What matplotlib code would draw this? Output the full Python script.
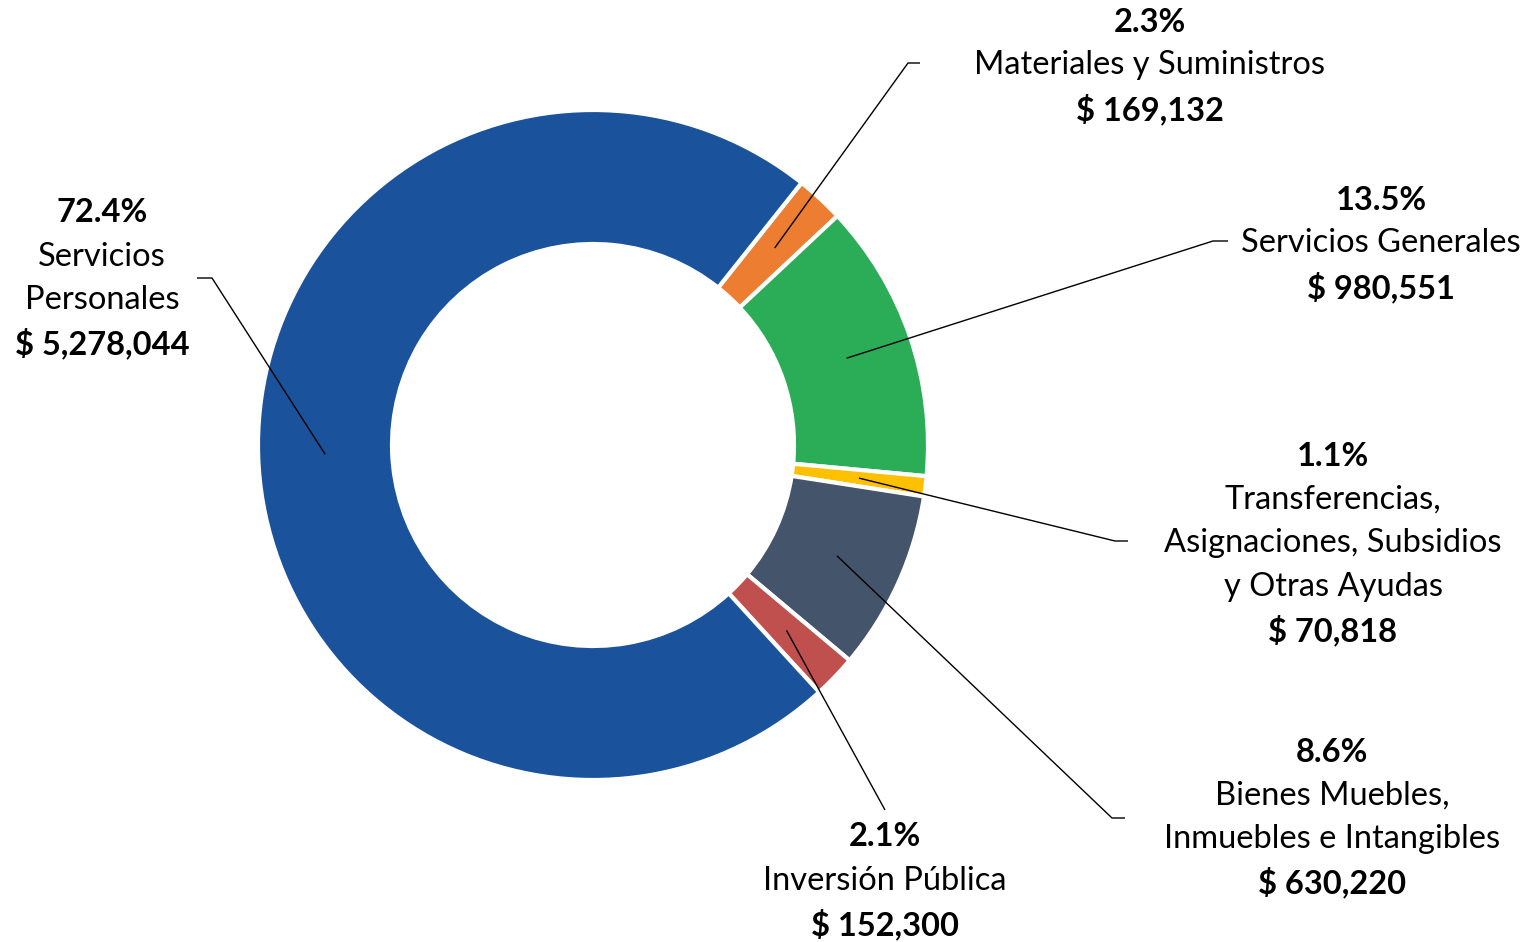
import numpy as np
import matplotlib.pyplot as plt

# datos del presupuesto por capitulo
categorias = ["Materiales y Suministros", "Servicios Generales",
              "Transferencias,\nAsignaciones, Subsidios\ny Otras Ayudas",
              "Bienes Muebles,\nInmuebles e Intangibles", "Inversión Pública",
              "Servicios\nPersonales"]
montos = [169132, 980551, 70818, 630220, 152300, 5278044]
porcentajes = ["2.3%", "13.5%", "1.1%", "8.6%", "2.1%", "72.4%"]
colores = ["#ED7D31", "#2BAD58", "#FFC000", "#44546A", "#C0504D", "#1A529B"]

W, H = 1532, 942
plt.rcParams['font.family'] = ['Lato', 'DejaVu Sans']

fig = plt.figure(figsize=(W / 100, H / 100), dpi=100)
ax = fig.add_axes([0, 0, 1, 1])

cx, cy, R = 593, H - 445, 335
wedges, _ = ax.pie(montos, colors=colores, startangle=51.5, counterclock=False,
                   radius=R, center=(cx, cy), frame=True,
                   wedgeprops=dict(width=R * 0.4, edgecolor="white", linewidth=3))
ax.set_xlim(0, W)
ax.set_ylim(0, H)
ax.axis("off")

# posicion del bloque de texto (centro x, y de la primera linea) y codo de la linea guia
etiquetas_pos = [(1150, 22), (1381, 200), (1333, 456), (1332, 752), (885, 837), (102, 213)]
codos = [[(908, 63), (920, 63)], [(1213, 241), (1228, 241)], [(1115, 541), (1128, 541)],
         [(1112, 818), (1125, 818)], [(885, 810)], [(212, 278), (197, 278)]]

fs = 23.5
dy = 43.5
for w, cat, m, p, (tx, ty), codo in zip(wedges, categorias, montos, porcentajes,
                                         etiquetas_pos, codos):
    ang = np.deg2rad((w.theta1 + w.theta2) / 2)
    x0 = cx + 0.8 * R * np.cos(ang)
    y0 = cy + 0.8 * R * np.sin(ang)
    xs = [x0] + [c[0] for c in codo]
    ys = [y0] + [H - c[1] for c in codo]
    ax.plot(xs, ys, color="black", lw=1, solid_capstyle="butt")

    lineas = cat.split("\n")
    y = ty
    ax.text(tx, H - y, p, ha="center", va="center", fontsize=fs, fontweight="bold")
    for l in lineas:
        y += dy
        ax.text(tx, H - y, l, ha="center", va="center", fontsize=fs)
    y += dy
    ax.text(tx, H - y, "$ {:,}".format(m), ha="center", va="center",
            fontsize=fs, fontweight="bold")

fig.savefig("out.png", dpi=100)
